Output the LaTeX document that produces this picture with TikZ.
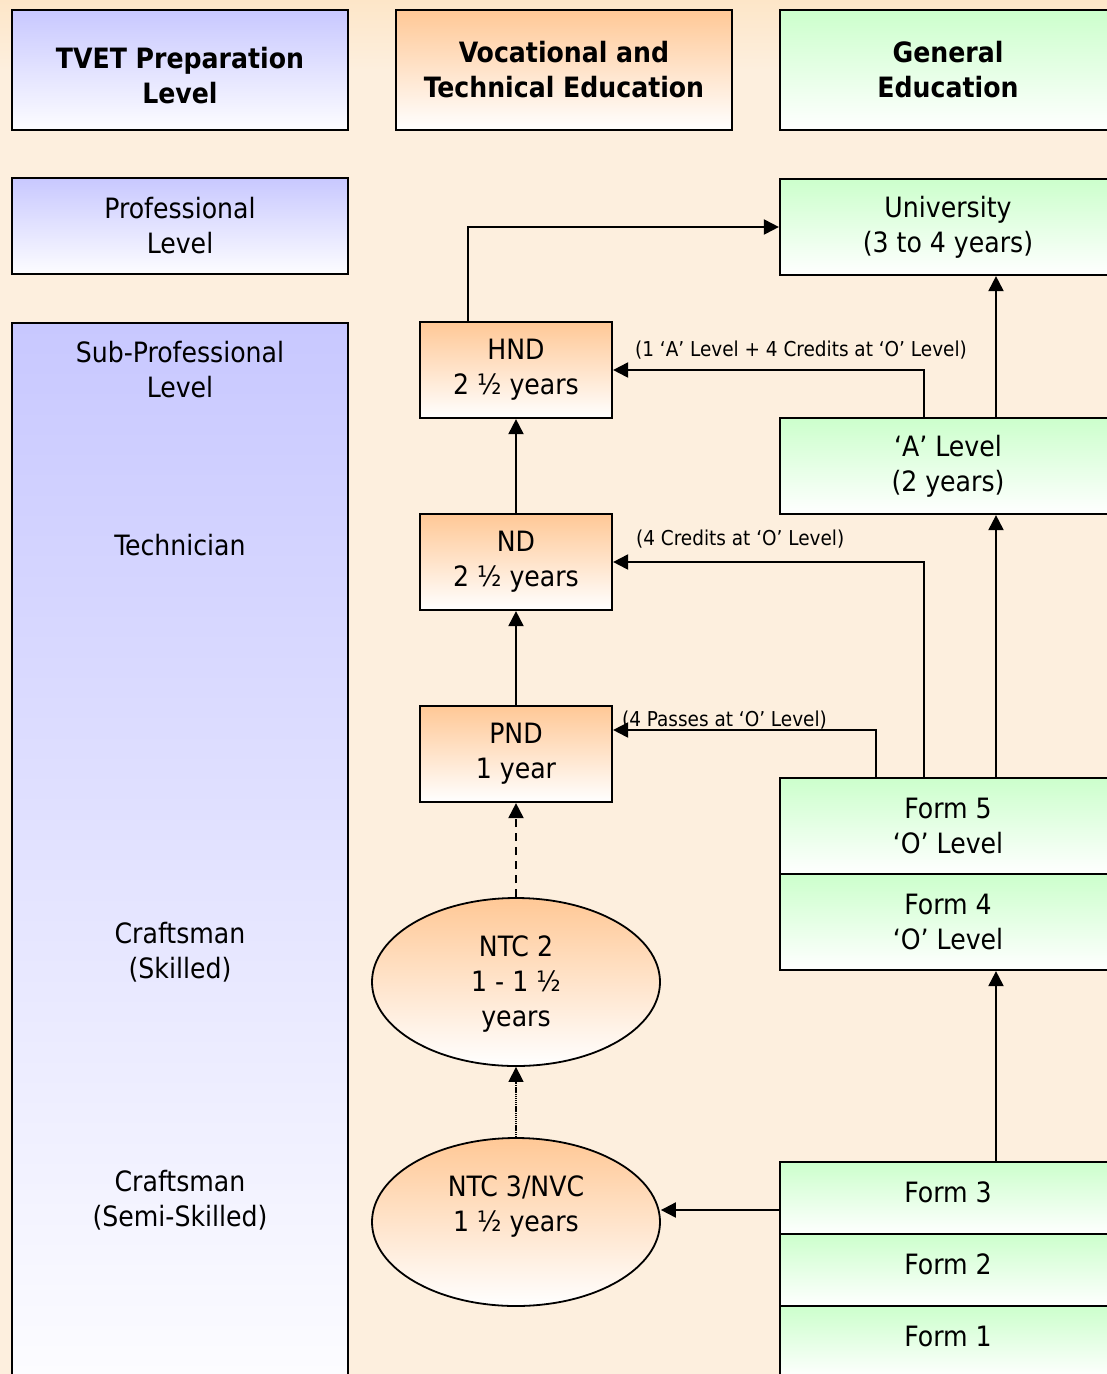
\documentclass[tikz,border=0pt]{standalone}
\usepackage{fontspec}
\setmainfont{DejaVu Sans Condensed}
\usetikzlibrary{arrows.meta,shapes.geometric,calc}
\definecolor{bgmid}{RGB}{253,239,222}
\definecolor{bgtop}{RGB}{253,230,200}
\definecolor{bluetop}{RGB}{200,200,255}
\definecolor{bluemid}{RGB}{218,218,255}
\definecolor{orangetop}{RGB}{255,200,150}
\definecolor{greentop}{RGB}{204,255,204}
\begin{document}
\begin{tikzpicture}[x=1pt,y=-1pt,
  txt/.style={inner sep=0pt, align=center, font=\fontsize{28}{35}\selectfont},
  hdrtxt/.style={inner sep=0pt, align=center, font=\fontsize{28}{35}\selectfont\bfseries},
  smalltxt/.style={inner sep=0pt, anchor=west, font=\fontsize{20.5}{24}\selectfont},
  box/.style={draw=black, line width=2.2pt, rectangle, inner sep=0pt, minimum width=336pt, minimum height=96pt, align=center, font=\fontsize{28}{35}\selectfont},
  bluebox/.style={box, top color=bluetop, bottom color=white!96!bluetop},
  orangebox/.style={box, top color=orangetop, bottom color=white},
  greenbox/.style={box, top color=greentop, bottom color=white},
  vocbox/.style={orangebox, minimum width=192pt},
  formbox/.style={greenbox, minimum height=72pt},
  oval/.style={ellipse, draw=black, line width=1.8pt, inner sep=0pt, minimum width=288pt, minimum height=168pt, top color=orangetop, bottom color=white},
  tip/.style={-{Triangle[length=15pt,width=15pt]}},
  arr/.style={line width=2pt, tip},
]
\useasboundingbox (0,0) rectangle (1107,1374);
\clip (0,0) rectangle (1107,1374);
\fill[bgmid] (0,0) rectangle (1107,1374);
\shade[top color=bgtop, bottom color=bgmid] (0,0) rectangle (1107,70);

% headers
\node[bluebox, minimum height=120pt] (h1) at (180,70) {};
\node[hdrtxt] (h1t) at (180,75.5) {TVET Preparation\\Level};
\node[orangebox, font=\fontsize{28}{35}\selectfont\bfseries, minimum height=120pt] (h2) at (564,70) {Vocational and\\Technical Education};
\node[greenbox, font=\fontsize{28}{35}\selectfont\bfseries, minimum height=120pt] (h3) at (948,70) {General\\Education};

% left column
\node[bluebox] (prof) at (180,226) {Professional\\Level};
\node[draw=black, line width=2.2pt, inner sep=0pt, minimum width=336pt, minimum height=1080pt, anchor=north, top color=bluetop, middle color=bluemid, bottom color=white!97!bluetop] (sub) at (180,322) {};
\node[txt] (subl) at (180,369.5) {Sub-Professional\\Level};
\node[txt] (tech) at (180,545) {Technician};
\node[txt] (craft) at (180,952.5) {Craftsman\\(Skilled)};
\node[txt] (semi) at (180,1200.5) {Craftsman\\(Semi-Skilled)};

% vocational column
\node[vocbox] (hnd) at (516,370) {HND\\2 ½ years};
\node[vocbox] (nd) at (516,562) {ND\\2 ½ years};
\node[vocbox] (pnd) at (516,754) {PND\\1 year};
\node[oval] (ntc2) at (516,982) {};
\node[txt] (ntc2t) at (516,984) {NTC 2\\1 - 1 ½\\years};
\node[oval] (ntc3) at (516,1222) {};
\node[txt] (ntc3t) at (516,1207) {NTC 3/NVC\\1 ½ years};

% general column
\node[greenbox] (uni) at (948,227) {University\\(3 to 4 years)};
\node[greenbox] (alev) at (948,466) {‘A’ Level\\(2 years)};
\node[greenbox] (f5) at (948,826) {Form 5\\‘O’ Level};
\node[greenbox] (f4) at (948,922) {Form 4\\‘O’ Level};
\node[formbox] (f3) at (948,1198) {};
\node[txt] (f3t) at (948,1192) {Form 3};
\node[formbox] (f2) at (948,1270) {};
\node[txt] (f2t) at (948,1264) {Form 2};
\node[formbox] (f1) at (948,1342) {};
\node[txt] (f1t) at (948,1336) {Form 1};

% connectors
\draw[arr] ([xshift=-48pt]hnd.north) |- (uni.west);
\draw[arr] ([xshift=48pt]alev.north) -- ([xshift=48pt]uni.south);
\draw[arr] ([xshift=-24pt]alev.north) |- (hnd.east);
\draw[arr] (nd.north) -- (hnd.south);
\draw[arr] (pnd.north) -- (nd.south);
\draw[arr] ([xshift=48pt]f5.north) -- ([xshift=48pt]alev.south);
\draw[arr] ([xshift=-24pt]f5.north) |- (nd.east);
\draw[arr] ([xshift=-72pt]f5.north) |- ([yshift=24pt]pnd.east);
\draw[arr, dash pattern=on 8pt off 6pt] (ntc2.north) -- (pnd.south);
\draw[line width=1.5pt, dash pattern=on 1.2pt off 0.7pt, tip] (ntc3.north) -- (ntc2.south);
\draw[arr] ([xshift=48pt]f3.north) -- ([xshift=48pt]f4.south);
\draw[arr] ([yshift=-12pt]f3.west) -- ([yshift=-12pt]f3.west -| ntc3.east);

% labels
\node[smalltxt] (l1) at (635,350) {(1 ‘A’ Level + 4 Credits at ‘O’ Level)};
\node[smalltxt] (l2) at (636,539) {(4 Credits at ‘O’ Level)};
\node[smalltxt] (l3) at (622,720) {(4 Passes at ‘O’ Level)};
\end{tikzpicture}
\end{document}
